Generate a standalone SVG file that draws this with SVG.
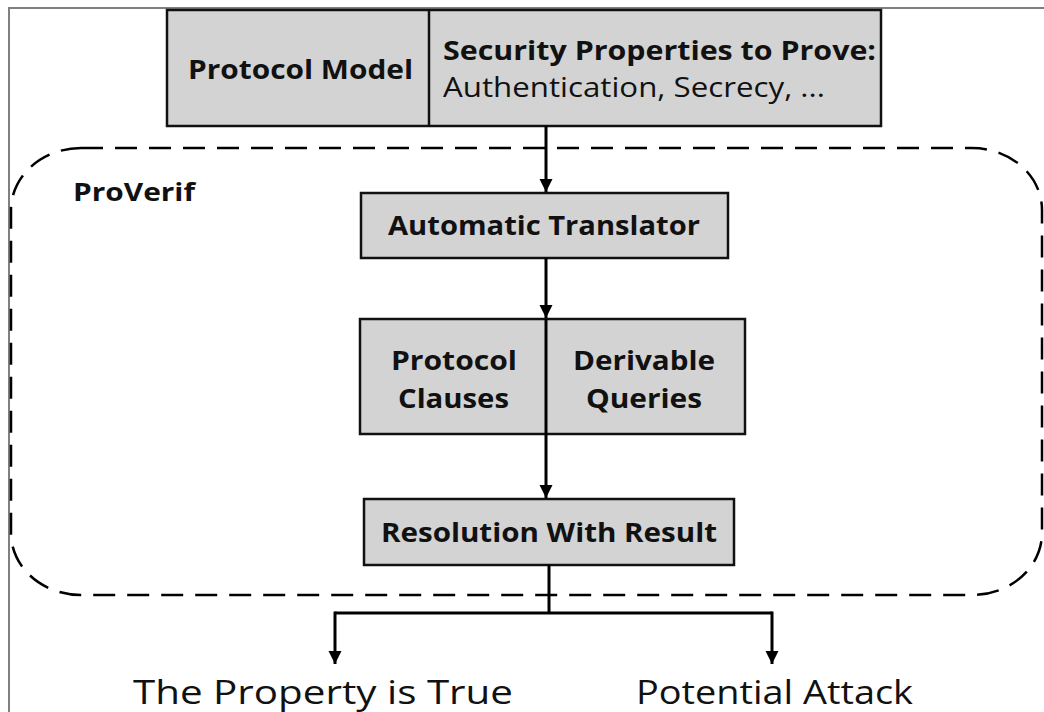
<svg xmlns="http://www.w3.org/2000/svg" width="1044" height="712" viewBox="0 0 1044 712">
<style>
.box{fill:#d3d3d3;stroke:#111;stroke-width:2.5}
.b{font-family:"Open Sans","Liberation Sans",sans-serif;font-weight:bold;fill:#111}
.r{font-family:"Open Sans","Liberation Sans",sans-serif;fill:#111}
.c{stroke:#000;stroke-width:3;fill:none}
</style>
<defs>
<marker id="ah" viewBox="0 0 10 10" refX="10" refY="5" markerWidth="4.5" markerHeight="4.5" orient="auto" markerUnits="strokeWidth">
<path d="M0,0 L10,5 L0,10 z" fill="#000"/>
</marker>
</defs>
<rect width="1044" height="712" fill="#fff"/>
<path d="M9,712 L9,8 L1044,8" fill="none" stroke="#808080" stroke-width="2"/>
<g id="proverif">
<rect x="11" y="148" width="1031" height="447" rx="70" ry="62" fill="none" stroke="#000" stroke-width="2.5" stroke-dasharray="22,12"/>
<text class="b" x="73" y="201" font-size="25" textLength="122" lengthAdjust="spacingAndGlyphs">ProVerif</text>
</g>
<g id="top">
<rect class="box" x="167" y="10" width="714" height="116"/>
<line x1="429" y1="10" x2="429" y2="126" stroke="#111" stroke-width="2.5"/>
<text class="b" x="188" y="79" font-size="27" textLength="225" lengthAdjust="spacingAndGlyphs">Protocol Model</text>
<text class="b" x="443" y="60" font-size="27" textLength="433" lengthAdjust="spacingAndGlyphs">Security Properties to Prove:</text>
<text class="r" x="443" y="97" font-size="27" textLength="382" lengthAdjust="spacingAndGlyphs">Authentication, Secrecy, ...</text>
</g>
<g id="translator">
<rect class="box" x="361" y="193" width="367" height="65"/>
<text class="b" x="388" y="235" font-size="27" textLength="312" lengthAdjust="spacingAndGlyphs">Automatic Translator</text>
</g>
<g id="clauses">
<rect class="box" x="360" y="319" width="385" height="115"/>
<text class="b" x="391" y="370" font-size="27" textLength="126" lengthAdjust="spacingAndGlyphs">Protocol</text>
<text class="b" x="398" y="408" font-size="27" textLength="111" lengthAdjust="spacingAndGlyphs">Clauses</text>
<text class="b" x="573" y="370" font-size="27" textLength="142" lengthAdjust="spacingAndGlyphs">Derivable</text>
<text class="b" x="586" y="408" font-size="27" textLength="116" lengthAdjust="spacingAndGlyphs">Queries</text>
</g>
<g id="resolution">
<rect class="box" x="364" y="499" width="370" height="66"/>
<text class="b" x="381" y="542" font-size="27" textLength="336" lengthAdjust="spacingAndGlyphs">Resolution With Result</text>
</g>
<g id="true"><text class="r" x="133" y="704" font-size="32" textLength="380" lengthAdjust="spacingAndGlyphs">The Property is True</text></g>
<g id="attack"><text class="r" x="636" y="704" font-size="32" textLength="277" lengthAdjust="spacingAndGlyphs">Potential Attack</text></g>
<g id="connectors">
<line class="c" x1="546" y1="126" x2="546" y2="192" marker-end="url(#ah)"/>
<line class="c" x1="546" y1="258" x2="546" y2="318" marker-end="url(#ah)"/>
<line class="c" x1="546" y1="319" x2="546" y2="498" marker-end="url(#ah)"/>
<line class="c" x1="549" y1="565" x2="549" y2="613"/>
<path class="c" d="M335,613 L772,613"/>
<line class="c" x1="335" y1="611.5" x2="335" y2="664" marker-end="url(#ah)"/>
<line class="c" x1="772" y1="611.5" x2="772" y2="664" marker-end="url(#ah)"/>
</g>
</svg>
